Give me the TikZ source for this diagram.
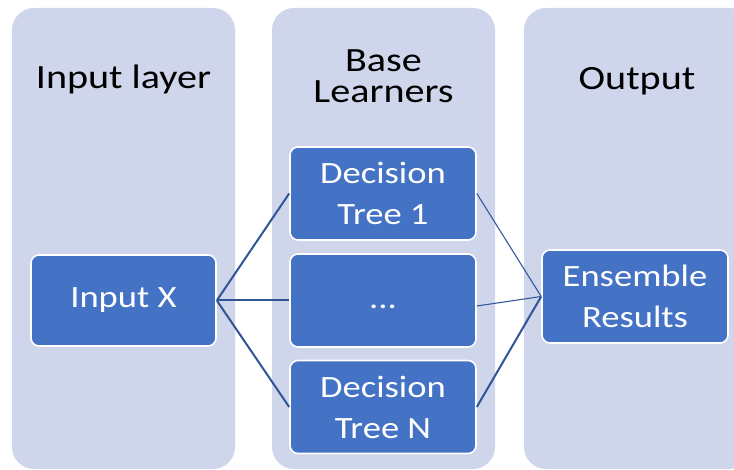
\documentclass[tikz,border=0pt]{standalone}
\usepackage{fontspec}
\setmainfont[FakeStretch=1.18]{Carlito}
\definecolor{laneblue}{HTML}{CFD5EA}
\definecolor{boxblue}{HTML}{4472C4}
\definecolor{linkblue}{HTML}{2F5597}
\begin{document}
\begin{tikzpicture}[x=1pt,y=-1pt,
  lane/.style={fill=laneblue, rounded corners=22pt},
  box/.style={draw=white, line width=1.6pt, fill=boxblue, rounded corners=8pt,
    text=white, font=\fontsize{31}{41}\selectfont, align=center, inner sep=0pt,
    minimum width=186pt, minimum height=93pt},
  lanetitle/.style={font=\fontsize{34}{31}\selectfont, align=center, text=black},
  inlink/.style={draw=linkblue, line width=2pt},
  outlink/.style={draw=linkblue!85!boxblue, line width=1.1pt}]
\useasboundingbox (0,0) rectangle (734,470);
\clip (0,0) rectangle (734,470);

% three background lanes
\fill[lane] (12,8) rectangle (235,469);
\fill[lane] (272,8) rectangle (495,469);
\fill[lane] (524,8) rectangle (752,469);

% lane titles
\node[lanetitle, anchor=base] (t1) at (123.5,89) {Input layer};
\node[lanetitle] (t2) at (383.5,76) {Base\\Learners};
\node[lanetitle, anchor=base] (t3) at (637,90) {Output};

% boxes
\node[box, minimum width=185pt, minimum height=91pt] (inx) at (123.5,300.5) {Input X};
\node[box] (dt1) at (383,193.5) {Decision\\Tree 1};
\node[box] (dots) at (383,300.5) {\raisebox{-8pt}[0pt][0pt]{...}};
\node[box] (dtn) at (383,407) {Decision\\Tree N};
\node[box] (ens) at (635,296.5) {Ensemble\\Results};

% connectors
\draw[inlink] (inx.east) -- (dt1.west);
\draw[inlink] (inx.east) -- (dots.west);
\draw[inlink] (inx.east) -- (dtn.west);
\draw[outlink] (dt1.east) -- (ens.west);
\draw[outlink] ([yshift=-5.5pt]dots.east) -- (ens.west);
\draw[inlink] (dtn.east) -- (ens.west);
\end{tikzpicture}
\end{document}
